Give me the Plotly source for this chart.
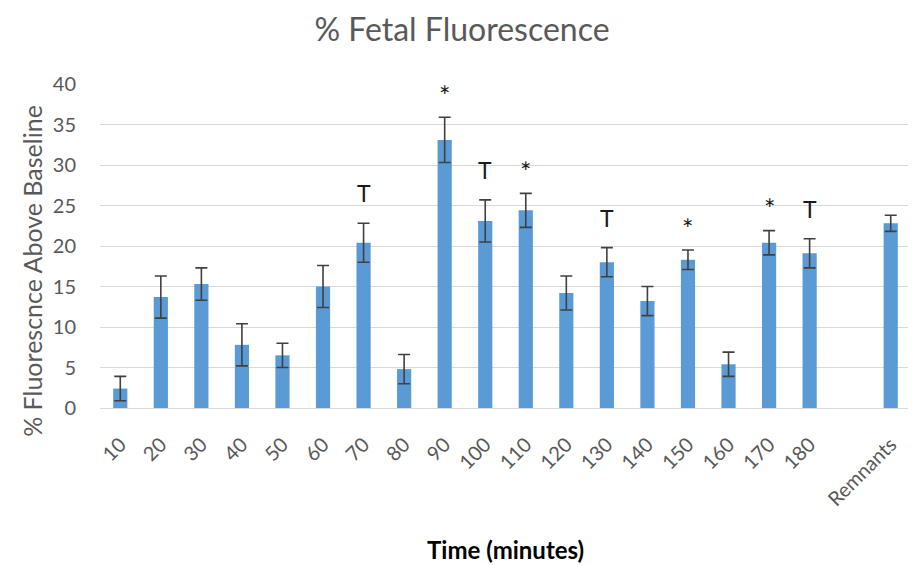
import plotly.graph_objects as go

categories = ["10", "20", "30", "40", "50", "60", "70", "80", "90", "100",
              "110", "120", "130", "140", "150", "160", "170", "180", " ", "Remnants"]
values = [2.4, 13.7, 15.3, 7.8, 6.5, 15.0, 20.4, 4.8, 33.1, 23.1,
          24.4, 14.2, 18.0, 13.2, 18.3, 5.4, 20.4, 19.1, None, 22.8]
errors = [1.5, 2.6, 2.0, 2.6, 1.5, 2.6, 2.4, 1.8, 2.8, 2.6,
          2.1, 2.1, 1.8, 1.8, 1.2, 1.5, 1.5, 1.8, None, 1.0]
marks = ["", "", "", "", "", "", "T", "", "*", "T",
         "*", "", "T", "", "*", "", "*", "T", "", ""]

FONT = "Lato, Open Sans, sans-serif"
gray = "#595959"

fig = go.Figure()
fig.add_trace(go.Bar(
    x=categories, y=values,
    marker=dict(color="#5B9BD5", line=dict(width=0)),
    error_y=dict(type="data", array=errors, visible=True,
                 color="#404040", thickness=1.6, width=6),
    width=0.35,
))

for i, (v, e, m) in enumerate(zip(values, errors, marks)):
    if m:
        fig.add_annotation(
            x=i, y=v + e, text=m, showarrow=False,
            yanchor="middle", yshift=30 if m == "T" else 22,
            font=dict(family=FONT, size=23 if m == "T" else 27, color="#1a1a1a"),
        )

fig.add_annotation(
    text="% Fluorescnce Above Baseline", xref="paper", yref="paper",
    x=-0.084, y=0.423, textangle=-90, showarrow=False,
    xanchor="center", yanchor="middle",
    font=dict(family=FONT, size=25, color=gray),
)
fig.add_annotation(
    text="<b>Time (minutes)</b>", xref="paper", yref="paper",
    x=0.5, y=-0.438, showarrow=False, xanchor="center", yanchor="middle",
    font=dict(family=FONT, size=24, color="#000000"),
)

fig.update_layout(
    width=908, height=557,
    margin=dict(l=92, r=5, t=76, b=157),
    paper_bgcolor="white", plot_bgcolor="white",
    showlegend=False,
    title=dict(text="% Fetal Fluorescence", x=0.5, xanchor="center",
               y=0.961, yanchor="middle",
               font=dict(family=FONT, size=32, color=gray)),
    xaxis=dict(type="category", categoryorder="array", categoryarray=categories,
               range=[-0.5, 19.5],
               tickangle=-45, showgrid=False, showline=True, linecolor="#d9d9d9",
               linewidth=1, ticks="", ticklabelstandoff=16,
               tickfont=dict(family=FONT, size=20, color=gray)),
    yaxis=dict(range=[0, 40], dtick=5, showgrid=True, gridcolor="#d9d9d9",
               gridwidth=1, zeroline=False, showline=False, ticks="",
               ticklabelstandoff=23,
               tickfont=dict(family=FONT, size=20, color=gray)),
)

fig.write_html("out.html")
